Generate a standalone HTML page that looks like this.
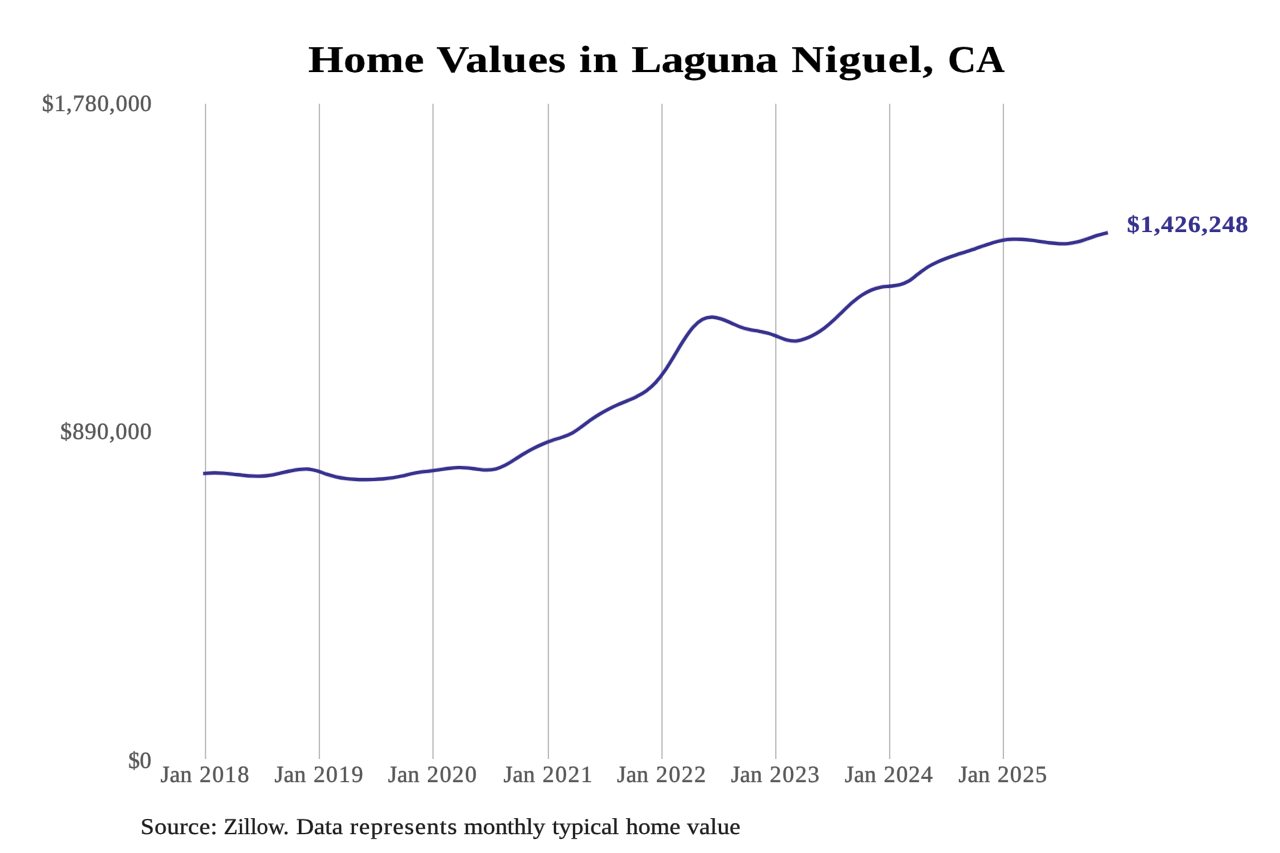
<!DOCTYPE html>
<html lang="en">
<head>
<meta charset="utf-8">
<title>Home Values in Laguna Niguel, CA</title>
<style>
  html, body { margin: 0; padding: 0; background: #ffffff; }
  body { width: 1280px; height: 853px; overflow: hidden; font-family: "Liberation Serif", serif; }
  svg { display: block; filter: blur(0.55px); }
  text { font-family: "Liberation Serif", serif; text-rendering: geometricPrecision; }
</style>
</head>
<body>
<svg width="1280" height="853" viewBox="0 0 1280 853" role="img" aria-label="Home Values in Laguna Niguel, CA">
  <rect x="0" y="0" width="1280" height="853" fill="#ffffff"/>
  <!-- vertical year gridlines -->
  <g stroke="#bbbbbb" stroke-width="1.35" fill="none">
    <line x1="205.50" y1="103.70" x2="205.50" y2="758.90"/>
    <line x1="319.40" y1="103.70" x2="319.40" y2="758.90"/>
    <line x1="433.00" y1="103.70" x2="433.00" y2="758.90"/>
    <line x1="548.40" y1="103.70" x2="548.40" y2="758.90"/>
    <line x1="662.00" y1="103.70" x2="662.00" y2="758.90"/>
    <line x1="775.80" y1="103.70" x2="775.80" y2="758.90"/>
    <line x1="889.65" y1="103.70" x2="889.65" y2="758.90"/>
    <line x1="1003.40" y1="103.70" x2="1003.40" y2="758.90"/>
  </g>
  <!-- home value series (soft edge underlay + main stroke) -->
  <defs><path id="series" d="M204.90,473.45 C206.46,473.36 211.16,472.92 214.29,472.89 C217.42,472.86 220.55,473.06 223.68,473.28 C226.81,473.49 229.94,473.86 233.07,474.19 C236.20,474.52 239.32,474.94 242.45,475.24 C245.58,475.54 248.71,475.87 251.84,476.02 C254.97,476.16 258.10,476.26 261.23,476.12 C264.36,475.98 267.49,475.64 270.62,475.16 C273.75,474.69 276.88,473.94 280.01,473.27 C283.14,472.60 286.27,471.76 289.40,471.14 C292.53,470.51 295.66,469.84 298.79,469.51 C301.91,469.18 305.04,468.90 308.17,469.15 C311.30,469.40 314.43,470.13 317.56,470.99 C320.69,471.85 323.82,473.33 326.95,474.33 C330.08,475.32 333.21,476.25 336.34,476.96 C339.47,477.67 342.60,478.17 345.73,478.57 C348.86,478.97 351.99,479.21 355.12,479.38 C358.25,479.55 361.38,479.60 364.51,479.61 C367.63,479.63 370.76,479.58 373.89,479.47 C377.02,479.35 380.15,479.19 383.28,478.91 C386.41,478.63 389.54,478.28 392.67,477.80 C395.80,477.31 398.93,476.68 402.06,476.01 C405.19,475.33 408.32,474.43 411.45,473.77 C414.58,473.12 417.71,472.55 420.84,472.09 C423.97,471.63 427.10,471.39 430.23,471.00 C433.35,470.61 436.48,470.17 439.61,469.73 C442.74,469.29 445.87,468.74 449.00,468.38 C452.13,468.02 455.26,467.65 458.39,467.57 C461.52,467.50 464.65,467.65 467.78,467.92 C470.91,468.19 474.04,468.84 477.17,469.19 C480.30,469.53 483.43,470.05 486.56,470.01 C489.69,469.96 492.82,469.75 495.94,468.94 C499.07,468.12 502.20,466.68 505.33,465.12 C508.46,463.55 511.59,461.47 514.72,459.55 C517.85,457.63 520.98,455.47 524.11,453.61 C527.24,451.76 530.37,450.00 533.50,448.40 C536.63,446.79 539.76,445.34 542.89,444.01 C546.02,442.67 549.15,441.48 552.28,440.37 C555.41,439.26 558.54,438.46 561.66,437.34 C564.79,436.21 567.92,435.24 571.05,433.61 C574.18,431.97 577.31,429.70 580.44,427.53 C583.57,425.35 586.70,422.75 589.83,420.56 C592.96,418.37 596.09,416.29 599.22,414.38 C602.35,412.47 605.48,410.72 608.61,409.10 C611.74,407.47 614.87,406.04 618.00,404.64 C621.13,403.25 624.25,402.09 627.38,400.74 C630.51,399.39 633.64,398.16 636.77,396.53 C639.90,394.90 643.03,393.28 646.16,390.96 C649.29,388.64 652.42,386.01 655.55,382.62 C658.68,379.23 661.81,375.10 664.94,370.61 C668.07,366.12 671.20,360.73 674.33,355.66 C677.46,350.59 680.59,344.93 683.72,340.20 C686.85,335.48 689.97,330.76 693.10,327.30 C696.23,323.84 699.36,321.13 702.49,319.44 C705.62,317.75 708.75,317.24 711.88,317.15 C715.01,317.06 718.14,317.97 721.27,318.90 C724.40,319.84 727.53,321.45 730.66,322.77 C733.79,324.10 736.92,325.73 740.05,326.87 C743.18,328.01 746.31,328.87 749.44,329.60 C752.56,330.32 755.69,330.61 758.82,331.21 C761.95,331.82 765.08,332.35 768.21,333.25 C771.34,334.15 774.47,335.47 777.60,336.61 C780.73,337.74 783.86,339.31 786.99,340.04 C790.12,340.78 793.25,341.25 796.38,341.00 C799.51,340.75 802.64,339.71 805.77,338.55 C808.90,337.39 812.03,335.83 815.16,334.06 C818.28,332.29 821.41,330.27 824.54,327.93 C827.67,325.58 830.80,322.83 833.93,319.97 C837.06,317.11 840.19,313.74 843.32,310.76 C846.45,307.78 849.58,304.73 852.71,302.11 C855.84,299.49 858.97,297.08 862.10,295.05 C865.23,293.03 868.36,291.27 871.49,289.96 C874.62,288.65 877.75,287.81 880.88,287.17 C884.00,286.53 887.13,286.53 890.26,286.13 C893.39,285.73 896.52,285.65 899.65,284.77 C902.78,283.90 905.91,282.71 909.04,280.87 C912.17,279.04 915.30,276.09 918.43,273.77 C921.56,271.45 924.69,268.90 927.82,266.96 C930.95,265.01 934.08,263.55 937.21,262.11 C940.34,260.67 943.47,259.48 946.59,258.30 C949.72,257.12 952.85,256.06 955.98,255.01 C959.11,253.95 962.24,252.99 965.37,251.97 C968.50,250.95 971.63,249.97 974.76,248.91 C977.89,247.85 981.02,246.69 984.15,245.61 C987.28,244.53 990.41,243.35 993.54,242.45 C996.67,241.55 999.80,240.75 1002.93,240.22 C1006.06,239.69 1009.19,239.41 1012.31,239.27 C1015.44,239.13 1018.57,239.21 1021.70,239.36 C1024.83,239.52 1027.96,239.85 1031.09,240.21 C1034.22,240.56 1037.35,241.06 1040.48,241.51 C1043.61,241.95 1046.74,242.49 1049.87,242.87 C1053.00,243.24 1056.13,243.62 1059.26,243.74 C1062.39,243.85 1065.52,243.88 1068.65,243.56 C1071.78,243.25 1074.90,242.62 1078.03,241.84 C1081.16,241.05 1084.29,239.89 1087.42,238.85 C1090.55,237.81 1093.68,236.56 1096.81,235.59 C1099.94,234.63 1104.64,233.48 1106.20,233.06"/></defs>
  <use href="#series" fill="none" stroke="#352f8d" stroke-opacity="0.35" stroke-width="4.300000000000001" stroke-linejoin="round" stroke-linecap="square"/>
  <use href="#series" fill="none" stroke="#352f8d" stroke-width="3.1" stroke-linejoin="round" stroke-linecap="square"/>
  <!-- labels (glyphs scaled horizontally to approximate the original wider serif face) -->
  <text transform="scale(1.1953,1)" y="72" font-size="37.80" font-weight="bold" fill="#000000" stroke="#000000" stroke-width="0.7" stroke-linejoin="round" stroke-opacity="0.4"><tspan x="257.82" letter-spacing="0.14">Home</tspan> <tspan x="365.17" letter-spacing="0.51">Values</tspan> <tspan x="484.53" letter-spacing="0.87">in</tspan> <tspan x="528.38" letter-spacing="-0.31">Laguna</tspan> <tspan x="662.08" letter-spacing="0.79">Niguel,</tspan> <tspan x="792.99" textLength="47.45" lengthAdjust="spacingAndGlyphs">CA</tspan></text>
  <text y="111" font-size="23.30" fill="#555555" stroke="#555555" stroke-width="0.9" stroke-linejoin="round" stroke-opacity="0.4"><tspan x="41.98" letter-spacing="0.55">$1,780,000</tspan></text>
  <text y="439" font-size="23.30" fill="#555555" stroke="#555555" stroke-width="0.9" stroke-linejoin="round" stroke-opacity="0.4"><tspan x="60.18" letter-spacing="0.59">$890,000</tspan></text>
  <text y="768" font-size="23.30" fill="#555555" stroke="#555555" stroke-width="0.9" stroke-linejoin="round" stroke-opacity="0.4"><tspan x="128.18" letter-spacing="-0.17">$0</tspan></text>
  <text y="782" font-size="23.30" fill="#555555" stroke="#555555" stroke-width="0.9" stroke-linejoin="round" stroke-opacity="0.4"><tspan x="160.59" letter-spacing="0.16">Jan</tspan> <tspan x="199.56" letter-spacing="0.98">2018</tspan></text>
  <text y="782" font-size="23.30" fill="#555555" stroke="#555555" stroke-width="0.9" stroke-linejoin="round" stroke-opacity="0.4"><tspan x="274.49" letter-spacing="0.16">Jan</tspan> <tspan x="313.46" letter-spacing="1.00">2019</tspan></text>
  <text y="782" font-size="23.30" fill="#555555" stroke="#555555" stroke-width="0.9" stroke-linejoin="round" stroke-opacity="0.4"><tspan x="388.09" letter-spacing="0.16">Jan</tspan> <tspan x="427.06" letter-spacing="0.98">2020</tspan></text>
  <text y="782" font-size="23.30" fill="#555555" stroke="#555555" stroke-width="0.9" stroke-linejoin="round" stroke-opacity="0.4"><tspan x="503.49" letter-spacing="0.16">Jan</tspan> <tspan x="542.46" letter-spacing="1.15">2021</tspan></text>
  <text y="782" font-size="23.30" fill="#555555" stroke="#555555" stroke-width="0.9" stroke-linejoin="round" stroke-opacity="0.4"><tspan x="617.09" letter-spacing="0.16">Jan</tspan> <tspan x="656.06" letter-spacing="1.11">2022</tspan></text>
  <text y="782" font-size="23.30" fill="#555555" stroke="#555555" stroke-width="0.9" stroke-linejoin="round" stroke-opacity="0.4"><tspan x="730.89" letter-spacing="0.16">Jan</tspan> <tspan x="769.86" letter-spacing="0.99">2023</tspan></text>
  <text y="782" font-size="23.30" fill="#555555" stroke="#555555" stroke-width="0.9" stroke-linejoin="round" stroke-opacity="0.4"><tspan x="844.74" letter-spacing="0.16">Jan</tspan> <tspan x="883.71" letter-spacing="0.81">2024</tspan></text>
  <text y="782" font-size="23.30" fill="#555555" stroke="#555555" stroke-width="0.9" stroke-linejoin="round" stroke-opacity="0.4"><tspan x="958.49" letter-spacing="0.16">Jan</tspan> <tspan x="997.46" letter-spacing="0.99">2025</tspan></text>
  <text transform="scale(1.0825,1)" y="232" font-size="23.30" font-weight="bold" fill="#352f8d" stroke="#352f8d" stroke-width="0.7" stroke-linejoin="round" stroke-opacity="0.4"><tspan x="1041.15" letter-spacing="0.79">$1,426,248</tspan></text>
  <text transform="scale(1.0847,1)" y="834" font-size="22.60" fill="#1a1a1a" stroke="#1a1a1a" stroke-width="0.8" stroke-linejoin="round" stroke-opacity="0.4"><tspan x="129.54" letter-spacing="0.30">Source:</tspan> <tspan x="206.33" textLength="60.06" lengthAdjust="spacingAndGlyphs">Zillow.</tspan> <tspan x="273.17" letter-spacing="0.08">Data</tspan> <tspan x="322.59" letter-spacing="0.80">represents</tspan> <tspan x="427.81" letter-spacing="-0.07">monthly</tspan> <tspan x="509.08" letter-spacing="-0.01">typical</tspan> <tspan x="577.18" letter-spacing="-0.06">home</tspan> <tspan x="633.38" letter-spacing="0.08">value</tspan></text>
</svg>
</body>
</html>
